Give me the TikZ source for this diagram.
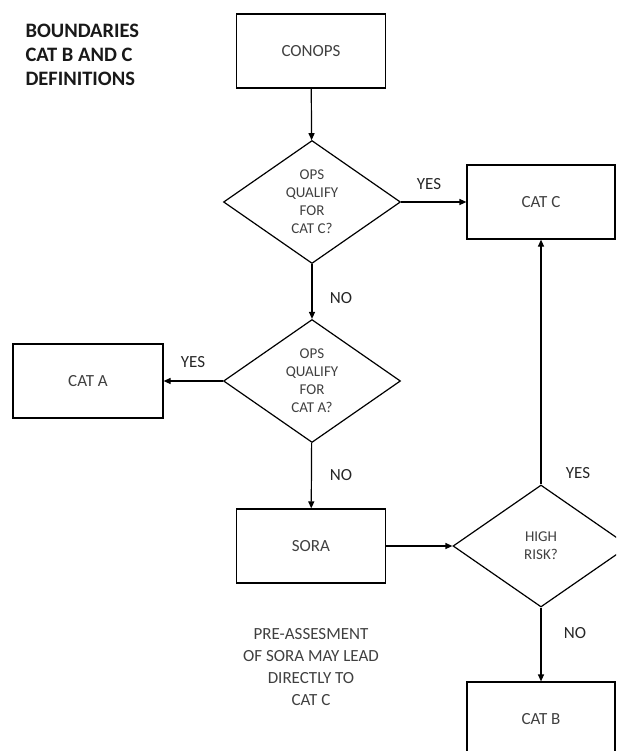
\documentclass[tikz,border=0pt]{standalone}
\usepackage{fontspec}
\setmainfont{Carlito}
\usetikzlibrary{shapes.geometric,arrows.meta}

\tikzset{
  box/.style={draw,line width=1.2pt,minimum width=149pt,minimum height=74pt,inner sep=0pt,
    text=black!75,font=\fontsize{17}{20}\selectfont},
  query/.style={draw,diamond,line width=1.2pt,minimum width=177pt,minimum height=123pt,inner sep=0pt,
    text=black!75,align=center,font=\fontsize{15}{18}\selectfont},
  flow/.style={line width=1.2pt,-{Triangle[length=7pt,width=6pt]}},
  answer/.style={text=black!85,font=\fontsize{17}{20}\selectfont}
}

\begin{document}
\begin{tikzpicture}[x=1pt,y=-1pt]

\useasboundingbox (0,0) rectangle (616,751);
\clip (0,0) rectangle (616,751);

\node[anchor=north west,align=left,font=\bfseries\fontsize{20.5}{24}\selectfont,text=black!90] (title) at (22,21)
  {BOUNDARIES\\CAT B AND C\\DEFINITIONS};

\node[box] (conops) at (311,51) {CONOPS};
\node[query] (qc) at (312,202) {OPS\\QUALIFY\\FOR\\CAT C?};
\node[box,minimum width=148pt] (catc) at (541,202) {CAT C};
\node[query] (qa) at (312,381) {OPS\\QUALIFY\\FOR\\CAT A?};
\node[box,minimum width=150pt] (cata) at (88,381) {CAT A};
\node[box] (sora) at (311,546) {SORA};
\node[query,minimum width=176pt,minimum height=122pt] (risk) at (541,546) {HIGH\\RISK?};
\node[box,minimum width=148pt] (catb) at (541,719) {CAT B};

\node[align=center,text=black!75,font=\fontsize{17}{22}\selectfont] (note) at (311,667)
  {PRE-ASSESMENT\\OF SORA MAY LEAD\\DIRECTLY TO\\CAT C};

\draw[flow] (conops) -- (qc);
\draw[flow] (qc) -- (catc);
\draw[flow] (qc) -- (qa);
\draw[flow] (qa) -- (cata);
\draw[flow] (qa) -- (sora);
\draw[flow] (sora) -- (risk);
\draw[flow] (risk) -- (catc);
\draw[flow] (risk) -- (catb);

\node[answer] (yes1) at (429,184) {YES};
\node[answer] (no1) at (341,298) {NO};
\node[answer] (yes2) at (193,362) {YES};
\node[answer] (no2) at (341,475) {NO};
\node[answer] (yes3) at (578,473) {YES};
\node[answer] (no3) at (575,633) {NO};

\end{tikzpicture}
\end{document}
